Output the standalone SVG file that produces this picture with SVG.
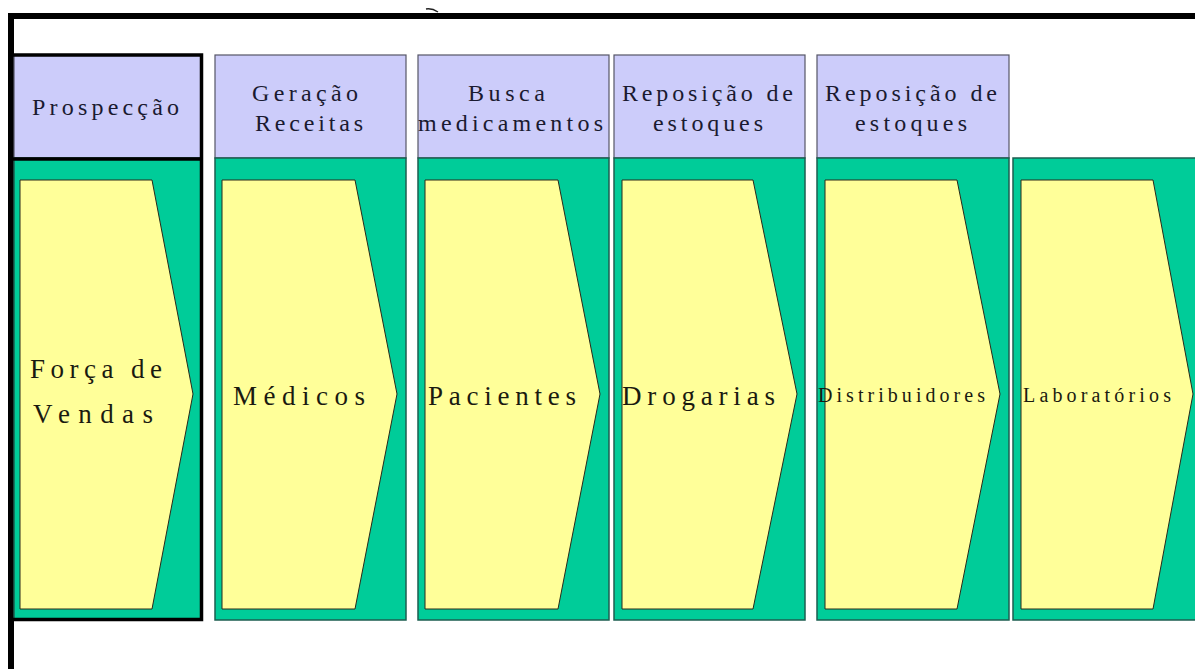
<svg xmlns="http://www.w3.org/2000/svg" width="1195" height="669" viewBox="0 0 1195 669">
<style>
.hdr{fill:#ccccfa;stroke:#555566;stroke-width:1.2}
.body{fill:#00cc99;stroke:#1d5e50;stroke-width:1.5}
.chev{fill:#ffff99;stroke:#2a2a1a;stroke-width:1}
text{font-family:"Liberation Serif","DejaVu Serif","Times New Roman",serif}
.ht{font-size:24px;fill:#1a1a30}
.bt{font-size:27px;fill:#1a1a10}
.st{font-size:20px;fill:#1a1a10}
</style>
<rect x="0" y="0" width="1195" height="669" fill="#ffffff"/>
<g id="frame">
<path d="M11,669 V16 H1195" fill="none" stroke="#000" stroke-width="6"/>
<path d="M426,9 Q432,8 438,12" fill="none" stroke="#222" stroke-width="1.5"/>
</g>
<g id="col1">
<rect class="hdr" x="14" y="55" width="188" height="103"/>
<rect class="body" x="14" y="158" width="188" height="462"/>
<polygon class="chev" points="20,180 152,180 193,394 152,609 20,609"/>
<path d="M11,55 H201.5 V619.5 H11 M11,159 H201.5" fill="none" stroke="#000" stroke-width="3.5"/>
<text class="ht" x="32" y="115" textLength="147" lengthAdjust="spacing">Prospecção</text>
<text class="bt" x="30" y="378" textLength="132" lengthAdjust="spacing">Força de</text>
<text class="bt" x="33" y="423" textLength="120" lengthAdjust="spacing">Vendas</text>
</g>
<g id="col2">
<rect class="hdr" x="215" y="55" width="191" height="103"/>
<rect class="body" x="215" y="158" width="191" height="462"/>
<polygon class="chev" points="222,180 355,180 397,394 355,609 222,609"/>
<text class="ht" x="252" y="101" textLength="106" lengthAdjust="spacing">Geração</text>
<text class="ht" x="255" y="131" textLength="108" lengthAdjust="spacing">Receitas</text>
<text class="bt" x="233" y="405" textLength="132" lengthAdjust="spacing">Médicos</text>
</g>
<g id="col3">
<rect class="hdr" x="418" y="55" width="191" height="103"/>
<rect class="body" x="418" y="158" width="191" height="462"/>
<polygon class="chev" points="425,180 558,180 600,394 558,609 425,609"/>
<text class="ht" x="468" y="101" textLength="77" lengthAdjust="spacing">Busca</text>
<text class="ht" x="418" y="131" textLength="185" lengthAdjust="spacing">medicamentos</text>
<text class="bt" x="428" y="405" textLength="148" lengthAdjust="spacing">Pacientes</text>
</g>
<g id="col4">
<rect class="hdr" x="614" y="55" width="191" height="103"/>
<rect class="body" x="614" y="158" width="191" height="462"/>
<polygon class="chev" points="622,180 753,180 797,394 753,609 622,609"/>
<text class="ht" x="622" y="101" textLength="171" lengthAdjust="spacing">Reposição de</text>
<text class="ht" x="653" y="131" textLength="110" lengthAdjust="spacing">estoques</text>
<text class="bt" x="622" y="405" textLength="153" lengthAdjust="spacing">Drogarias</text>
</g>
<g id="col5">
<rect class="hdr" x="817" y="55" width="192" height="103"/>
<rect class="body" x="817" y="158" width="192" height="462"/>
<polygon class="chev" points="825,180 957,180 1000,394 957,609 825,609"/>
<text class="ht" x="825" y="101" textLength="172" lengthAdjust="spacing">Reposição de</text>
<text class="ht" x="855" y="131" textLength="112" lengthAdjust="spacing">estoques</text>
<text class="st" x="818" y="402" textLength="167" lengthAdjust="spacing">Distribuidores</text>
</g>
<g id="col6">
<rect class="body" x="1013" y="158" width="190" height="462"/>
<polygon class="chev" points="1021,180 1153,180 1193,394 1153,609 1021,609"/>
<text class="st" x="1023" y="402" textLength="148" lengthAdjust="spacing">Laboratórios</text>
</g>
<g id="connectors"/>
</svg>
